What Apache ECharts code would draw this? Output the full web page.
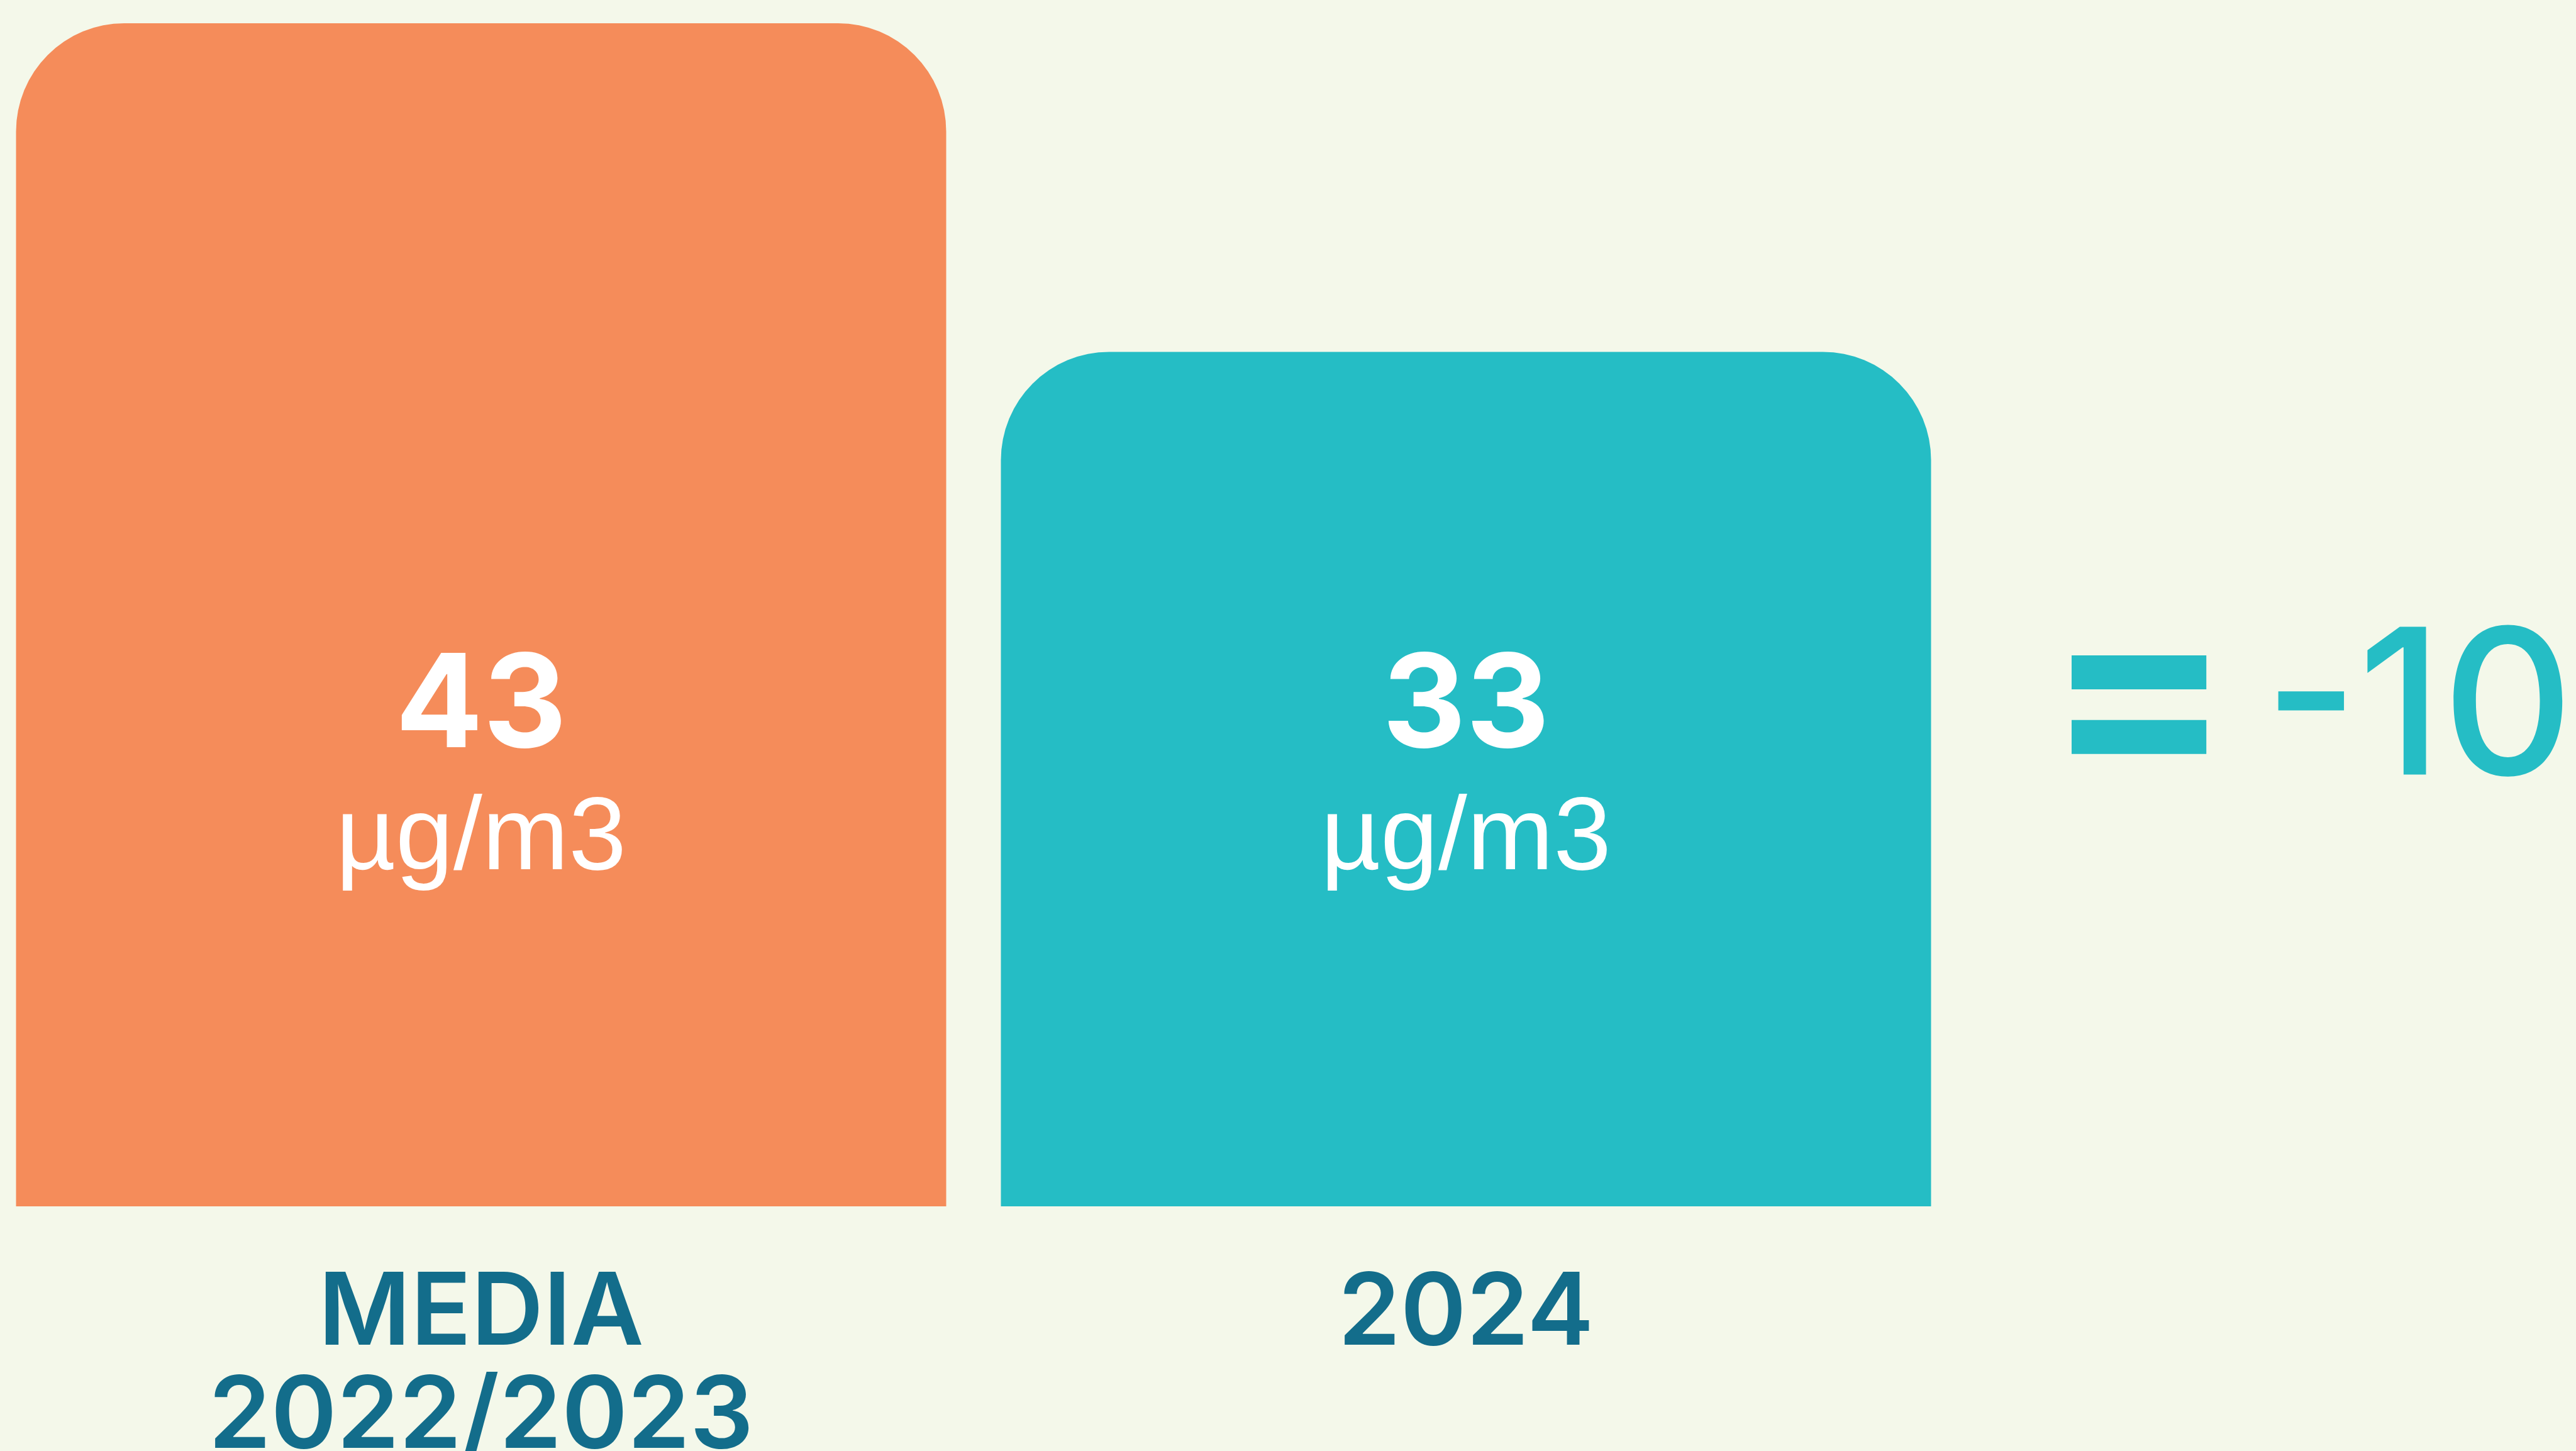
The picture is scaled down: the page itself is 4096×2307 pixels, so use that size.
<!DOCTYPE html>
<html>
<head>
<meta charset="utf-8">
<script src="https://cdn.jsdelivr.net/npm/echarts@6/dist/echarts.min.js"></script>
<style>
html,body{margin:0;padding:0;background:#f4f8ea;}
#main{width:4096px;height:2307px;}
</style>
</head>
<body>
<div id="main"></div>
<script>
var categories = ['MEDIA\n2022/2023', '2024'];
var values = [43, 33];
var barColors = ['#f58c5a', '#25bdc5'];
var unitText = 'µg/m3';

// differenza tra i due periodi
var diff = values[1] - values[0];

var myChart = echarts.init(document.getElementById('main'));

var barData = [];
for (var i in values) {
    barData.push({
        value: values[i],
        itemStyle: {color: barColors[i]}
    });
}

var option = {
    backgroundColor: '#f4f8ea',
    animation: false,
    grid: {
        left: -18,
        top: 37,
        width: 3132,
        bottom: 389,
        outerBoundsMode: 'none'
    },
    xAxis: {
        type: 'category',
        data: categories,
        axisLine: {show: false},
        axisTick: {show: false},
        axisLabel: {
            margin: 90,
            color: '#136d8b',
            fontFamily: 'Inter',
            fontWeight: 600,
            fontSize: 159,
            lineHeight: 164
        }
    },
    yAxis: {
        type: 'value',
        show: false,
        min: 7,
        max: 43
    },
    graphic: [{
        type: 'text',
        x: 3401,
        y: 1116,
        style: {
            text: '=',
            fill: '#25bdc5',
            font: 'bold 440px Inter',
            textAlign: 'center',
            textVerticalAlign: 'middle'
        }
    }, {
        type: 'text',
        right: 4,
        top: 973,
        style: {
            text: String(diff),
            fill: '#25bdc5',
            font: '500 323px Inter',
            textVerticalAlign: 'top'
        }
    }],
    series: [{
        type: 'bar',
        barWidth: 1479,
        data: barData,
        itemStyle: {
            borderRadius: [172, 172, 0, 0]
        },
        label: {
            show: true,
            position: 'insideBottom',
            distance: 477,
            formatter: '{v|{c}}\n{u|' + unitText + '}',
            rich: {
                v: {
                    color: '#ffffff',
                    fontFamily: 'Inter',
                    fontWeight: 'bold',
                    fontSize: 206,
                    lineHeight: 210
                },
                u: {
                    color: '#ffffff',
                    fontFamily: 'Liberation Sans',
                    fontSize: 165,
                    lineHeight: 210
                }
            }
        }
    }]
};
myChart.setOption(option, true);
</script>
</body>
</html>
